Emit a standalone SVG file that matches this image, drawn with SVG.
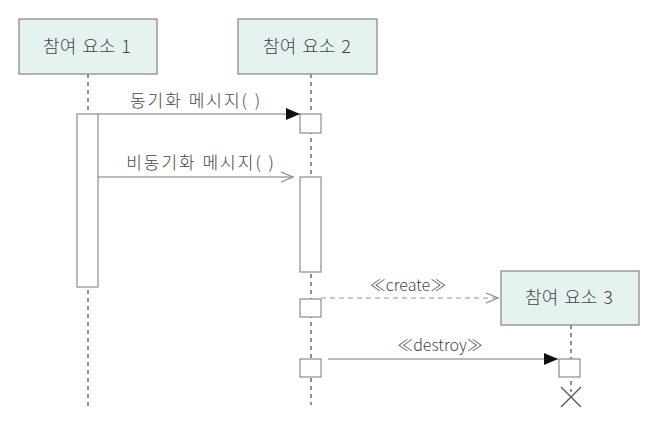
<svg xmlns="http://www.w3.org/2000/svg" width="657" height="434" viewBox="0 0 657 434">
<style>
.box{fill:#e6f2f0;stroke:#8c8c8c;stroke-width:1.3}
.act{fill:#fff;stroke:#8c8c8c;stroke-width:1.2}
.life{stroke:#444;stroke-width:1.2;stroke-dasharray:4 4;fill:none}
.msg{stroke:#777;stroke-width:1.2;fill:none}
.dmsg{stroke:#999;stroke-width:1.2;fill:none;stroke-dasharray:5 4}
.t{font-family:"Noto Sans CJK KR","Noto Sans",sans-serif;fill:#444;text-anchor:middle;font-weight:300}
.n{font-size:18px;word-spacing:2px}
.l{font-size:17px;letter-spacing:2px}
.s{font-size:16px}
</style>
<defs>
<marker id="filled" markerWidth="14" markerHeight="12" refX="14" refY="6" orient="auto" markerUnits="userSpaceOnUse"><path d="M0,0 L14,6 L0,12 Z" fill="#111"/></marker>
<marker id="open" markerWidth="14" markerHeight="12" refX="13" refY="6" orient="auto" markerUnits="userSpaceOnUse"><path d="M1,1 L13,6 L1,11" fill="none" stroke="#888" stroke-width="1.2"/></marker>
</defs>
<g id="lifelines">
<line class="life" x1="88" y1="74" x2="88" y2="406"/>
<line class="life" x1="311" y1="74" x2="311" y2="405"/>
<line class="life" x1="571" y1="325" x2="571" y2="392"/>
</g>
<g id="p1"><rect class="box" x="19" y="19" width="138" height="55"/><text class="t n" x="87" y="53">참여 요소 1</text></g>
<g id="p2"><rect class="box" x="238" y="19" width="139" height="55"/><text class="t n" x="307" y="53">참여 요소 2</text></g>
<g id="p3"><rect class="box" x="501" y="271" width="138" height="54"/><text class="t n" x="569" y="304">참여 요소 3</text></g>
<g id="activations">
<rect class="act" x="77" y="114" width="21" height="173"/>
<rect class="act" x="300" y="114" width="21" height="19"/>
<rect class="act" x="300" y="177" width="21" height="95"/>
<rect class="act" x="300" y="299" width="21" height="18"/>
<rect class="act" x="300" y="359" width="21" height="18"/>
<rect class="act" x="559" y="359" width="21" height="18"/>
</g>
<g id="connectors">
<line class="msg" x1="98" y1="114" x2="300" y2="114" marker-end="url(#filled)"/>
<line class="msg" x1="98" y1="177" x2="293" y2="177" marker-end="url(#open)"/>
<line class="dmsg" x1="321" y1="298" x2="498" y2="298" marker-end="url(#open)"/>
<line class="msg" x1="328" y1="359" x2="558" y2="359" marker-end="url(#filled)"/>
<path d="M561,387 L581,407 M581,387 L561,407" stroke="#555" stroke-width="1.3" fill="none"/>
</g>
<g id="labels">
<text class="t l" x="196" y="107">동기화 메시지( )</text>
<text class="t l" x="201" y="169">비동기화 메시지( )</text>
<text class="t s" x="408" y="291">≪create≫</text>
<text class="t s" x="440" y="351">≪destroy≫</text>
</g>
</svg>
